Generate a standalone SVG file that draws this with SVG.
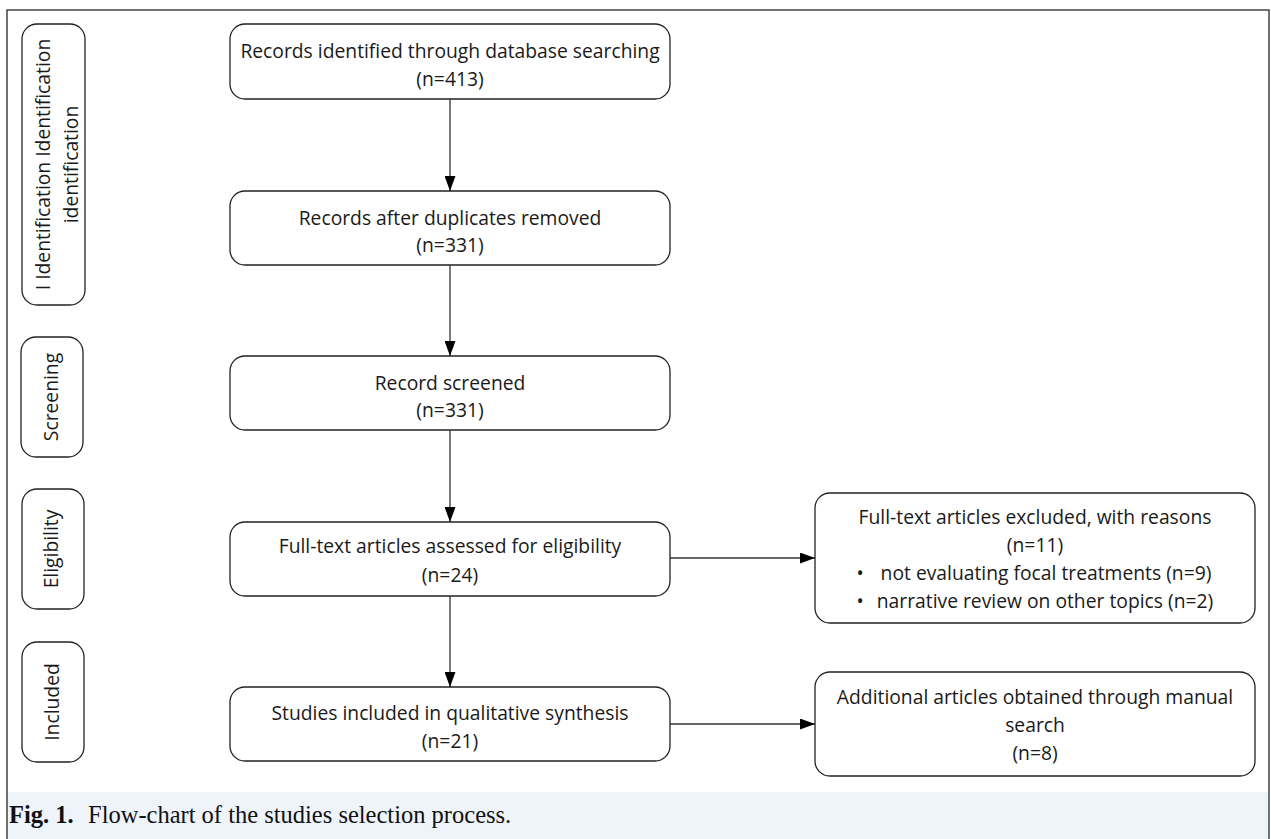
<svg xmlns="http://www.w3.org/2000/svg" width="1271" height="839" viewBox="0 0 1271 839">
<defs>
<marker id="ah" markerWidth="15" markerHeight="11" refX="15" refY="5.5" orient="auto" markerUnits="userSpaceOnUse">
<path d="M0,0 L15,5.5 L0,11 Z" fill="#000"/>
</marker>
<style>
.box{fill:#fff;stroke:#222;stroke-width:1.3}
.t{font-family:"Open Sans","Noto Sans",sans-serif;font-size:19.3px;fill:#1a1a1a;text-anchor:middle}
.side{font-family:"Open Sans","Noto Sans",sans-serif;font-size:19.3px;fill:#1a1a1a;text-anchor:middle}
.edge{stroke:#333;stroke-width:1.3;fill:none;marker-end:url(#ah)}
.cap{font-family:"Liberation Serif",serif;font-size:24.5px;fill:#111}
</style>
</defs>
<rect x="0" y="0" width="1271" height="839" fill="#fff"/>
<rect x="7" y="792" width="1262" height="47" fill="#eff3fa"/>
<path d="M7,839 V10 H1269 V839" fill="none" stroke="#444" stroke-width="1.5"/>

<g id="side-identification">
<rect class="box" x="22" y="24" width="63" height="281" rx="15"/>
<text class="side" transform="translate(50,164.5) rotate(-90)">I Identification Identification</text>
<text class="side" transform="translate(78,164.5) rotate(-90)">identification</text>
</g>
<g id="side-screening">
<rect class="box" x="21" y="337" width="62" height="120" rx="15"/>
<text class="side" transform="translate(58,397) rotate(-90)">Screening</text>
</g>
<g id="side-eligibility">
<rect class="box" x="22" y="489" width="62" height="120" rx="15"/>
<text class="side" transform="translate(58,549) rotate(-90)">Eligibility</text>
</g>
<g id="side-included">
<rect class="box" x="22" y="642" width="62" height="120" rx="15"/>
<text class="side" transform="translate(59,702) rotate(-90)">Included</text>
</g>

<g id="n1">
<rect class="box" x="230" y="24" width="440" height="75" rx="15"/>
<text class="t" x="450" y="58">Records identified through database searching</text>
<text class="t" x="450" y="86">(n=413)</text>
</g>
<g id="n2">
<rect class="box" x="230" y="191" width="440" height="74" rx="15"/>
<text class="t" x="450" y="225">Records after duplicates removed</text>
<text class="t" x="450" y="252">(n=331)</text>
</g>
<g id="n3">
<rect class="box" x="230" y="356" width="440" height="74" rx="15"/>
<text class="t" x="450" y="390">Record screened</text>
<text class="t" x="450" y="417">(n=331)</text>
</g>
<g id="n4">
<rect class="box" x="230" y="522" width="440" height="74" rx="15"/>
<text class="t" x="450" y="553">Full-text articles assessed for eligibility</text>
<text class="t" x="450" y="582">(n=24)</text>
</g>
<g id="n5">
<rect class="box" x="230" y="687" width="440" height="74" rx="15"/>
<text class="t" x="450" y="720">Studies included in qualitative synthesis</text>
<text class="t" x="450" y="748">(n=21)</text>
</g>
<g id="excluded">
<rect class="box" x="815" y="493" width="440" height="130" rx="15"/>
<text class="t" x="1035" y="524">Full-text articles excluded, with reasons</text>
<text class="t" x="1035" y="552">(n=11)</text>
<text class="t" x="860" y="580">•</text>
<text class="t" x="1046" y="580">not evaluating focal treatments (n=9)</text>
<text class="t" x="860" y="608">•</text>
<text class="t" x="1045" y="608">narrative review on other topics (n=2)</text>
</g>
<g id="additional">
<rect class="box" x="815" y="672" width="440" height="104" rx="15"/>
<text class="t" x="1035" y="704">Additional articles obtained through manual</text>
<text class="t" x="1035" y="732">search</text>
<text class="t" x="1035" y="760">(n=8)</text>
</g>

<g id="connectors">
<line class="edge" x1="450" y1="99" x2="450" y2="191"/>
<line class="edge" x1="450" y1="265" x2="450" y2="356"/>
<line class="edge" x1="450" y1="430" x2="450" y2="522"/>
<line class="edge" x1="450" y1="596" x2="450" y2="687"/>
<line class="edge" x1="670" y1="558" x2="815" y2="558"/>
<line class="edge" x1="670" y1="724" x2="815" y2="724"/>
</g>

<g id="caption">
<text class="cap" x="9" y="823"><tspan font-weight="bold">Fig. 1.</tspan><tspan x="88">Flow-chart of the studies selection process.</tspan></text>
</g>
</svg>
